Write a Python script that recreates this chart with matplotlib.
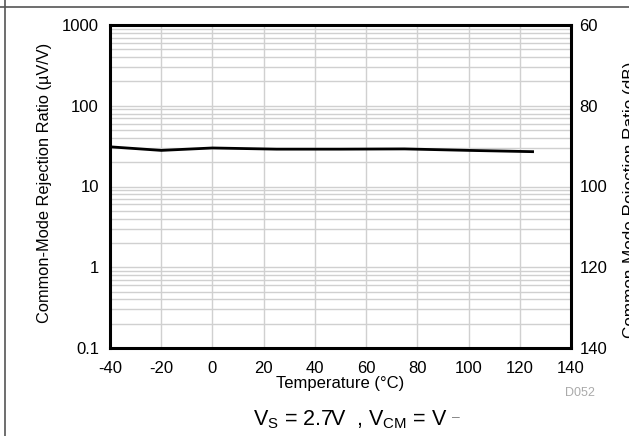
import matplotlib
matplotlib.use("Agg")
import matplotlib.pyplot as plt
from matplotlib.lines import Line2D
from matplotlib.ticker import FixedLocator, NullFormatter

plt.rcParams["font.family"] = ["Liberation Sans", "DejaVu Sans"]
plt.rcParams["mathtext.fontset"] = "custom"
plt.rcParams["mathtext.rm"] = "Liberation Sans"
plt.rcParams["mathtext.it"] = "Liberation Sans"

# CMRR vs temperature, VS = 2.7 V, VCM = V-
temperature = [-40, -20, 0, 25, 50, 75, 100, 125]
cmrr_uv_per_v = [31.0, 28.0, 30.0, 29.0, 29.0, 29.2, 28.0, 27.0]

x_ticks = [-40, -20, 0, 20, 40, 60, 80, 100, 120, 140]
y_ticks = [0.1, 1, 10, 100, 1000]
y_tick_labels = ["0.1", "1", "10", "100", "1000"]
db_ticks = [60, 80, 100, 120, 140]

fig = plt.figure(figsize=(6.29, 4.36), dpi=100)
ax = fig.add_axes([110 / 629, 1 - 348 / 436, (571 - 110) / 629, (348 - 25) / 436])

ax.plot(temperature, cmrr_uv_per_v, color="black", linewidth=2.0, zorder=3)

ax.set_xlim(-40, 140)
ax.set_yscale("log")
ax.set_ylim(0.1, 1000)
ax.set_xticks(x_ticks)
ax.set_xticklabels([str(t) for t in x_ticks])
ax.set_yticks(y_ticks)
ax.set_yticklabels(y_tick_labels)
minor = [m * 10.0 ** e for e in range(-1, 3) for m in range(2, 10)]
ax.yaxis.set_minor_locator(FixedLocator(minor))
ax.yaxis.set_minor_formatter(NullFormatter())

ax.grid(True, which="major", axis="both", color="#d0d0d0", linewidth=1.0)
ax.grid(True, which="minor", axis="y", color="#d0d0d0", linewidth=1.0)
ax.set_axisbelow(True)
ax.tick_params(axis="y", which="both", length=0, labelsize=12, pad=8)
ax.tick_params(axis="x", which="both", length=0, labelsize=12, pad=9)

for sp in ax.spines.values():
    sp.set_linewidth(2.2)

ax.set_xlabel("Temperature (°C)", fontsize=12, labelpad=0)
ax.set_ylabel("Common-Mode Rejection Ratio (µV/V)", fontsize=11.8, labelpad=1)
ax.yaxis.set_label_coords(-0.125, 0.51)

ax2 = ax.twinx()
ax2.set_ylim(140, 60)
ax2.set_yticks(db_ticks)
ax2.set_yticklabels([str(d) for d in db_ticks])
ax2.tick_params(length=0, labelsize=12, pad=6)
for sp in ax2.spines.values():
    sp.set_visible(False)

# right-hand label sits partly past the figure edge, as in the original
fig.text(631 / 629, 1 - 200 / 436, "Common-Mode Rejection Ratio (dB)", rotation=90,
         ha="center", va="center", fontsize=12.3)

fig.text(580 / 629, 1 - 393 / 436, "D052", color="#aaaaaa", fontsize=9,
         ha="center", va="center")

fig.text(350 / 629, 1 - 420 / 436,
         r"V$_\mathregular{S}$ = 2.7V  , V$_\mathregular{CM}$ = V",
         ha="center", va="center", fontsize=15.5)
fig.text(456 / 629, 1 - 417 / 436, "\u2013", color="#888888", fontsize=10,
         ha="center", va="center")

# outer frame lines
fig.add_artist(Line2D([0, 1], [1 - 7 / 436, 1 - 7 / 436], color="#555555",
                      linewidth=1.2, transform=fig.transFigure))
fig.add_artist(Line2D([5 / 629, 5 / 629], [0, 1], color="#555555",
                      linewidth=1.2, transform=fig.transFigure))

fig.savefig("out.png", dpi=100)
